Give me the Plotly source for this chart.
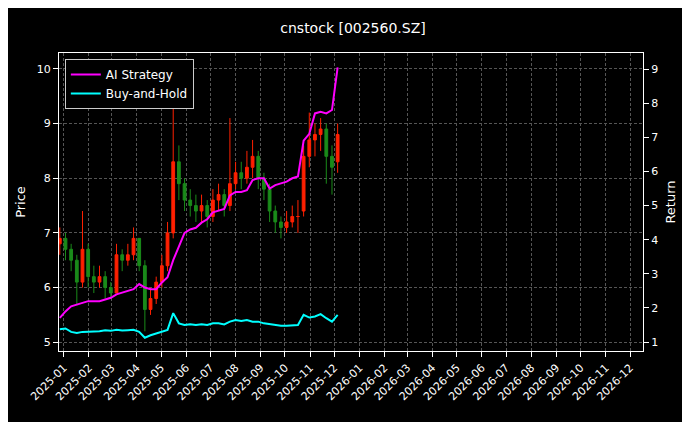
import plotly.graph_objects as go
import pandas as pd

dates = pd.date_range("2024-12-27", periods=50, freq="7D")
close = [6.9,6.7,6.5,6.1,6.7,6.2,6.1,6.2,6.0,5.9,6.6,6.5,6.6,6.9,6.4,5.6,5.8,6.1,6.4,7.0,
         8.3,7.9,7.6,7.5,7.4,7.5,7.3,7.6,7.7,7.5,7.9,8.1,8.0,8.2,8.4,8.0,7.8,7.4,7.2,7.1,
         7.2,7.3,7.3,8.4,8.7,8.8,8.9,8.4,8.2,8.8]
open_ = [6.8,6.9,6.7,6.5,6.1,6.7,6.2,6.1,6.2,6.0,5.9,6.6,6.5,6.6,6.9,6.4,5.6,5.8,6.1,6.4,
         7.0,8.3,7.9,7.6,7.5,7.4,7.5,7.3,7.6,7.7,7.5,7.9,8.1,8.0,8.2,8.4,8.0,7.8,7.4,7.2,
         7.1,7.2,7.3,7.4,8.4,8.7,8.8,8.9,8.4,8.3]
high = [7.1,7.0,6.8,6.6,7.4,6.8,6.4,6.4,6.3,6.1,6.8,6.7,6.8,7.1,6.9,6.5,6.0,6.2,6.6,7.2,
        9.4,8.6,8.0,7.8,7.7,7.7,7.6,7.8,7.9,7.8,9.1,8.3,8.3,8.5,8.7,8.5,8.1,7.9,7.5,7.3,
        7.4,7.5,7.6,8.6,9.2,9.0,9.1,9.0,8.6,9.0]
low = [6.6,6.5,6.3,5.7,6.0,6.0,5.9,6.0,5.8,5.8,5.9,6.3,6.4,6.5,6.3,5.2,5.5,5.7,6.0,6.3,
       6.9,7.6,7.4,7.3,7.2,7.2,7.1,7.2,7.4,7.3,7.4,7.8,7.8,7.9,8.0,7.8,7.6,7.2,7.0,6.9,
       7.0,7.1,7.0,7.3,8.2,8.4,8.5,7.9,7.7,8.1]
ai_ret = [1.71,1.9,2.05,2.1,2.15,2.2,2.2,2.2,2.25,2.3,2.4,2.45,2.5,2.55,2.7,2.6,2.55,2.55,2.75,2.9,
          3.4,3.8,4.2,4.3,4.35,4.5,4.6,4.8,4.85,4.9,5.3,5.4,5.4,5.45,5.75,5.8,5.8,5.5,5.6,5.65,
          5.7,5.8,5.85,6.9,7.1,7.7,7.75,7.7,7.8,9.05]
bh_ret = [1.38,1.4,1.3,1.27,1.3,1.3,1.3,1.32,1.35,1.33,1.36,1.34,1.35,1.36,1.3,1.13,1.2,1.25,1.3,1.36,
          1.85,1.55,1.5,1.52,1.5,1.52,1.5,1.55,1.55,1.52,1.6,1.65,1.62,1.65,1.6,1.6,1.55,1.52,1.5,1.48,
          1.48,1.5,1.5,1.8,1.72,1.75,1.82,1.7,1.6,1.8]

fig = go.Figure()
fig.add_trace(go.Candlestick(x=dates, open=open_, high=high, low=low, close=close,
    increasing=dict(line=dict(color="#ff2000", width=1), fillcolor="#ff2000"),
    decreasing=dict(line=dict(color="#1a8a1a", width=1), fillcolor="#1a8a1a"),
    whiskerwidth=0, showlegend=False, hoverinfo="skip"))
fig.add_trace(go.Scatter(x=dates, y=ai_ret, yaxis="y2", mode="lines", name="AI Strategy",
    line=dict(color="#ff00ff", width=2)))
fig.add_trace(go.Scatter(x=dates, y=bh_ret, yaxis="y2", mode="lines", name="Buy-and-Hold",
    line=dict(color="#00ffff", width=2)))

ticks = pd.date_range("2025-01-01", "2026-12-01", freq="MS")
grid = dict(showgrid=True, gridcolor="#555", griddash="3px,2px", gridwidth=0.6)
fig.update_layout(
    width=690, height=422, paper_bgcolor="black", plot_bgcolor="black",
    font=dict(family="DejaVu Sans", color="white", size=11),
    title=dict(text="cnstock [002560.SZ]", x=0.5, xanchor="center", y=0.965, font=dict(size=14)),
    margin=dict(l=51, r=55, t=45, b=79, autoexpand=False),
    xaxis=dict(range=["2024-12-26", "2026-12-17"], tickvals=list(ticks),
               ticktext=[t.strftime("%Y-%m") for t in ticks], tickangle=-45,
               rangeslider=dict(visible=False), showline=True, linecolor="white", mirror=True,
               ticks="outside", tickcolor="white", zeroline=False, automargin=False, **grid),
    yaxis=dict(title=dict(text="Price", standoff=8), range=[4.84, 10.29], dtick=1,
               showline=True, linecolor="white", automargin=False,
               ticks="outside", tickcolor="white", zeroline=False, **grid),
    yaxis2=dict(title=dict(text="Return", standoff=8), range=[0.74, 9.47], dtick=1, overlaying="y",
                side="right", automargin=False,
                showgrid=False, showline=True, linecolor="white", ticks="outside",
                tickcolor="white", zeroline=False),
    legend=dict(x=0.01, y=0.98, xanchor="left", yanchor="top", bgcolor="black",
                bordercolor="#ccc", borderwidth=1, font=dict(size=12)),
)
fig.write_html("out.html")
